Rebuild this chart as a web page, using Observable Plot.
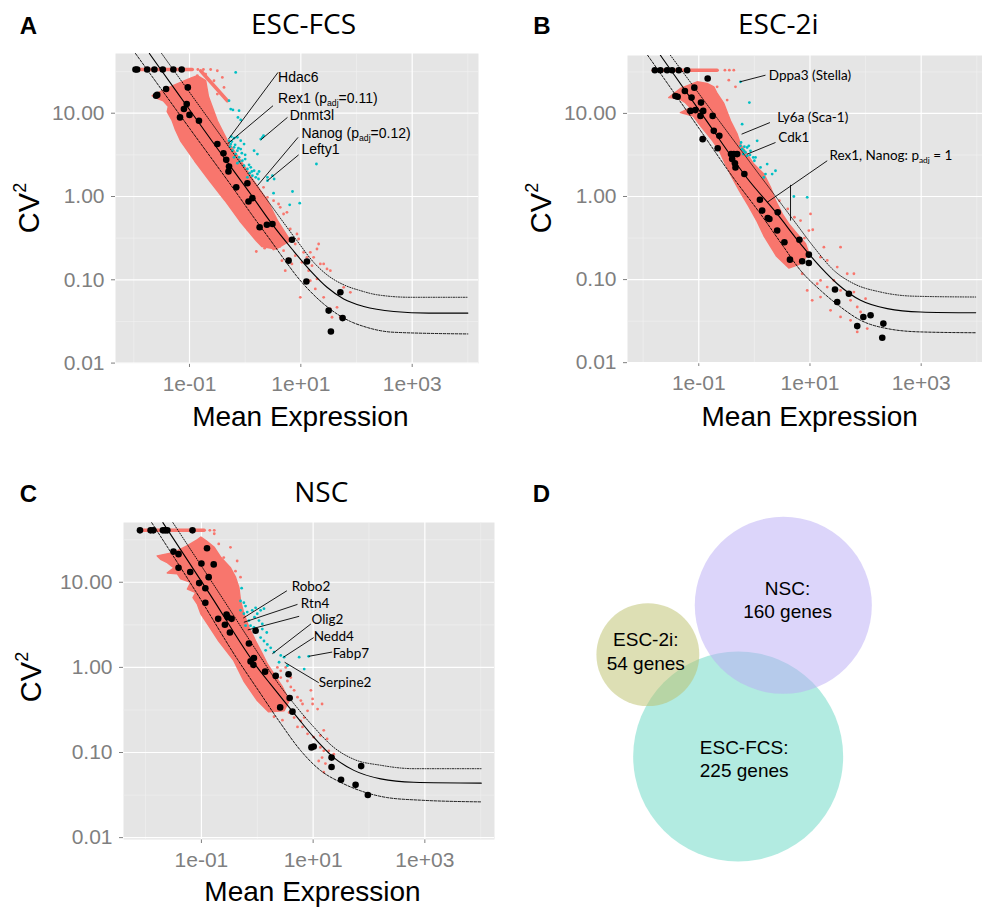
<!DOCTYPE html>
<html><head><meta charset="utf-8">
<script src="https://cdn.jsdelivr.net/npm/d3@7"></script>
<script src="https://cdn.jsdelivr.net/npm/@observablehq/plot@0.6"></script>
<style>
body{margin:0;background:#fff;}
#fig{position:relative;width:982px;height:910px;overflow:hidden;font-family:"Liberation Sans",Arial,sans-serif;color:#000;}
.abs{position:absolute;line-height:1;white-space:nowrap;transform:translate(-50%,-50%);}
.letter{font-weight:bold;font-size:24px;}
.title{font-family:"Open Sans",sans-serif;font-size:28px;}
.xlab{font-size:28px;}
.ylab{font-size:29px;transform:translate(-50%,-50%) rotate(-90deg);}
.ylab sup{font-size:0.62em;vertical-align:0.7em;line-height:0;}
.plotbox{position:absolute;}
</style></head>
<body><div id="fig"></div>
<script>
// ---------- shared axis breaks ----------
const xBreaks = [0.1, 10, 1000];
const xBreakLabels = ["1e-01", "1e+01", "1e+03"];
const xMinor = [0.01, 1, 100, 10000];
const yBreaks = [0.01, 0.1, 1, 10];
const yBreakLabels = ["0.01", "0.10", "1.00", "10.00"];
const yMinor = [0.0316, 0.316, 3.16, 31.6];

// all point data below: [log10 mean expression, log10 CV²]
// ---------- ESC-FCS ----------
const fcsCloud = [[-1.67,1.21],[-1.40,1.30],[-1.16,1.37],[-0.98,1.42],[-0.86,1.45],[-0.71,1.39],[-0.66,1.20],[-0.50,0.91],[-0.32,0.67],[-0.08,0.43],[0.15,0.19],[0.40,-0.05],[0.58,-0.29],[0.81,-0.53],[0.55,-0.63],[0.30,-0.60],[0.20,-0.53],[-0.10,-0.29],[-0.36,-0.05],[-0.64,0.19],[-0.91,0.43],[-1.16,0.67],[-1.25,0.80],[-1.31,0.91],[-1.40,1.02],[-1.38,1.08],[-1.47,1.15],[-1.55,1.17]];
const fcsStreaks = [[[-1.97,1.525],[-0.95,1.525]], [[-0.80,1.51],[-0.32,1.15]]];
const fcsRed = [[0.69,-0.21],[0.75,-0.19],[0.60,-0.09],[0.81,-0.39],[0.93,-0.45],[0.96,-0.51],[0.90,-0.57],[1.05,-0.67],[1.17,-0.67],[1.32,-0.57],[1.29,-0.63],[1.11,-0.73],[1.35,-0.81],[1.47,-0.87],[1.53,-0.89],[1.14,-0.89],[1.29,-0.99],[1.17,-1.01],[1.26,-1.11],[1.41,-1.21],[0.99,-1.21],[1.65,-1.33],[1.71,-1.45],[1.77,-1.09],[1.89,-1.15],[1.56,-1.45],[1.53,-1.35],[0.78,-0.75],[0.84,-0.81],[0.72,-0.89],[0.66,-0.77],[0.90,-0.71],[1.02,-0.79],[1.20,-0.83],[1.23,-0.73],[1.41,-0.81],[0.45,-0.41],[0.57,-0.53],[0.51,-0.63],[0.69,-0.65],[0.63,-0.45],[-0.86,1.45],[-0.71,1.47],[-0.41,1.43],[-0.38,1.31],[-0.56,1.39],[-0.50,1.23],[0.33,0.11],[0.51,-0.05],[0.63,-0.13],[0.40,-0.01],[-0.85,1.525],[-0.75,1.525],[-0.62,1.525],[-0.50,1.51],[0.35,-0.62],[0.20,-0.66],[0.62,-0.60],[0.05,-0.40],[-0.25,-0.12]];
const fcsCyan = [[-0.17,1.49],[-0.26,1.05],[-0.22,1.04],[-0.11,1.03],[-0.29,0.67],[-0.26,0.63],[-0.20,0.59],[-0.14,0.55],[-0.08,0.57],[-0.23,0.55],[-0.17,0.51],[-0.11,0.47],[-0.05,0.43],[-0.02,0.37],[0.04,0.33],[0.10,0.35],[0.16,0.31],[0.13,0.25],[0.19,0.23],[0.22,0.27],[0.24,0.21],[0.04,0.23],[0.28,0.69],[0.33,0.73],[0.16,0.55],[0.22,0.51],[0.40,0.23],[0.49,0.25],[0.52,0.21],[-0.14,0.71],[-0.08,0.67],[-0.02,0.63],[-0.20,0.47],[-0.14,0.40],[1.28,0.39],[0.85,0.06],[0.98,-0.08],[0.80,-0.10],[0.51,0.04],[0.40,0.19],[-0.29,1.15],[-0.13,0.95],[-0.08,0.92],[0.31,0.71],[-0.27,0.60],[-0.24,0.66],[-0.18,0.62],[-0.12,0.58],[-0.06,0.52],[0.00,0.45],[-0.10,0.42],[0.07,0.38],[0.12,0.30],[-0.25,0.72],[-0.20,0.70],[0.00,0.50],[0.08,0.28],[0.25,0.30]];
const fcsBlack = [[-1.97,1.525],[-1.94,1.525],[-1.76,1.525],[-1.63,1.525],[-1.48,1.525],[-1.29,1.525],[-1.14,1.525],[-1.42,1.29],[-1.58,1.22],[-1.60,1.21],[-1.03,1.31],[-1.05,1.11],[-1.10,1.05],[-1.00,0.98],[-1.17,0.95],[-0.83,0.91],[-0.50,0.63],[-0.39,0.52],[-0.34,0.44],[-0.29,0.36],[-0.30,0.30],[0.04,0.16],[-0.16,0.11],[0.13,-0.02],[0.06,-0.06],[0.39,-0.34],[0.26,-0.37],[0.49,-0.33],[0.84,-0.52],[0.78,-0.77],[1.11,-0.78],[1.10,-1.02],[1.71,-1.15],[1.50,-1.37],[1.75,-1.46],[1.54,-1.62]];
const fcsFit = [[-1.72,1.717],[-1.2,1.23],[-0.6,0.67],[0.13,0.0],[0.46,-0.31],[0.84,-0.63],[1.17,-0.89],[1.47,-1.09],[1.77,-1.23],[2.13,-1.32],[2.67,-1.38],[3.3,-1.40],[4.0,-1.40]];
const fcsUpper = [[-1.50,1.717],[-0.6,0.88],[0.35,0.0],[0.93,-0.53],[1.23,-0.79],[1.47,-0.94],[1.77,-1.06],[2.07,-1.13],[2.37,-1.18],[2.97,-1.21],[4.0,-1.21]];
const fcsLower = [[-1.97,1.717],[-1.0,0.82],[-0.11,0.0],[0.10,-0.20],[0.46,-0.53],[0.76,-0.81],[0.93,-0.96],[1.17,-1.14],[1.41,-1.29],[1.65,-1.41],[1.89,-1.50],[2.13,-1.56],[2.67,-1.63],[4.0,-1.65]];
const fcsLabels = ["Hdac6", "Rex1 (p_adj=0.11)", "Dnmt3l", "Nanog (p_adj=0.12)", "Lefty1"];
const fcsLabelPos = [[0.59,1.43],[0.59,1.18],[0.80,0.97],[1.01,0.76],[1.01,0.56]];
const fcsLinks = [[0.59,1.49,-0.30,0.69],[0.50,1.09,-0.32,0.63],[0.76,0.95,0.28,0.68],[0.95,0.71,0.22,0.13],[0.96,0.50,0.40,0.19]];

// ---------- ESC-2i ----------
const twoiCloud = [[-1.54,1.19],[-1.33,1.30],[-1.18,1.34],[-1.03,1.38],[-0.85,1.36],[-0.73,1.32],[-0.67,1.24],[-0.55,1.12],[-0.43,0.91],[-0.31,0.75],[-0.25,0.63],[-0.13,0.51],[-0.01,0.39],[0.17,0.27],[0.29,0.11],[0.38,-0.05],[0.50,-0.21],[0.62,-0.33],[0.77,-0.45],[0.92,-0.57],[0.98,-0.69],[0.83,-0.81],[0.62,-0.86],[0.40,-0.72],[0.17,-0.47],[0.05,-0.30],[-0.10,-0.12],[-0.27,0.07],[-0.40,0.23],[-0.52,0.39],[-0.63,0.55],[-0.75,0.67],[-0.87,0.77],[-0.99,0.87],[-1.10,0.97],[-1.33,1.01],[-1.15,1.07],[-1.24,1.13],[-1.36,1.18]];
const twoiStreaks = [[[-1.82,1.52],[-0.67,1.52]]];
const twoiRed = [[1.01,-0.21],[0.98,-0.41],[0.83,-0.29],[0.71,-0.45],[1.25,-0.61],[1.55,-0.61],[1.19,-0.73],[1.31,-0.77],[1.49,-0.85],[1.67,-0.93],[1.79,-0.93],[1.43,-1.01],[1.19,-1.01],[1.13,-1.05],[1.04,-1.25],[1.31,-1.09],[1.55,-1.13],[1.79,-1.15],[2.00,-1.23],[1.73,-1.25],[1.85,-1.33],[1.91,-1.39],[1.73,-1.49],[2.03,-1.59],[1.85,-1.63],[1.55,-1.45],[1.37,-1.37],[1.19,-1.21],[0.95,-1.13],[0.86,-0.93],[-0.37,1.52],[-0.34,1.32],[-0.49,1.16],[-0.55,1.06],[-0.40,0.83],[-0.46,1.40],[-0.67,1.32],[-0.53,1.52],[-0.45,1.52],[0.45,-0.05],[0.60,-0.15],[0.72,-0.25],[0.55,-0.38],[0.90,-0.50],[1.05,-0.40]];
const twoiCyan = [[-0.25,1.38],[-0.09,1.13],[-0.22,0.87],[-0.25,0.61],[-0.22,0.57],[-0.19,0.55],[-0.16,0.53],[-0.13,0.59],[-0.07,0.55],[-0.02,0.47],[0.02,0.47],[0.05,0.67],[0.11,0.35],[0.20,0.27],[0.23,0.39],[0.32,0.27],[0.38,0.31],[0.17,0.23],[0.00,0.43],[0.71,0.00],[0.95,-0.01],[-0.20,0.51],[-0.13,0.49],[-0.10,0.61],[-0.24,0.65],[-0.18,0.60],[-0.08,0.50]];
const twoiBlack = [[-1.79,1.52],[-1.69,1.52],[-1.57,1.52],[-1.48,1.52],[-1.36,1.52],[-1.21,1.52],[-0.84,1.42],[-1.42,1.21],[-1.38,1.20],[-1.25,1.27],[-1.08,1.31],[-1.13,1.19],[-0.96,1.13],[-1.15,1.03],[-1.06,1.04],[-0.97,0.97],[-0.92,1.03],[-0.75,0.97],[-0.93,0.69],[-0.73,0.79],[-0.63,0.73],[-0.66,0.58],[-0.42,0.51],[-0.37,0.51],[-0.31,0.51],[-0.40,0.45],[-0.35,0.40],[-0.34,0.35],[-0.18,0.27],[0.10,-0.04],[0.14,-0.17],[0.27,-0.27],[0.24,-0.26],[0.42,-0.19],[0.41,-0.41],[0.54,-0.55],[0.64,-0.76],[0.81,-0.52],[0.86,-0.78],[0.98,-0.70],[0.98,-0.80],[1.45,-1.12],[1.70,-1.17],[1.49,-1.27],[1.85,-1.56],[1.96,-1.45],[2.09,-1.43],[2.32,-1.53],[2.30,-1.70]];
const twoiFit = [[-1.69,1.70],[-0.9,0.95],[-0.13,0.22],[0.41,-0.21],[0.83,-0.57],[1.19,-0.85],[1.49,-1.05],[1.91,-1.25],[2.39,-1.35],[2.99,-1.39],[3.98,-1.40]];
const twoiUpper = [[-1.51,1.70],[-0.6,0.88],[0.17,0.19],[0.71,-0.29],[1.07,-0.61],[1.43,-0.89],[1.79,-1.05],[2.27,-1.15],[2.87,-1.20],[3.98,-1.21]];
const twoiLower = [[-1.92,1.70],[-1.1,0.92],[-0.34,0.19],[0.11,-0.21],[0.53,-0.61],[0.83,-0.89],[1.19,-1.13],[1.55,-1.33],[1.91,-1.49],[2.39,-1.59],[2.99,-1.63],[3.98,-1.64]];
const twoiLabels = ["Dppa3 (Stella)", "Ly6a (Sca-1)", "Cdk1", "Rex1, Nanog: p_adj = 1"];
const twoiLabelPos = [[0.26,1.46],[0.41,0.95],[0.43,0.71],[1.35,0.49]];
const twoiLinks = [[0.20,1.46,-0.26,1.38],[0.28,0.89,-0.23,0.75],[0.38,0.65,-0.13,0.51],[1.31,0.43,0.23,-0.07],[0.65,0.14,0.65,-0.29]];

// ---------- NSC ----------
const nscCloud = [[-1.79,1.31],[-1.49,1.35],[-1.25,1.43],[-1.07,1.50],[-1.01,1.53],[-0.92,1.49],[-0.77,1.41],[-0.65,1.29],[-0.48,1.17],[-0.39,1.06],[-0.33,0.94],[-0.30,0.78],[-0.24,0.63],[-0.15,0.47],[-0.03,0.31],[0.09,0.16],[0.18,0.04],[0.30,-0.08],[0.45,-0.23],[0.57,-0.39],[0.48,-0.51],[0.20,-0.52],[0.0,-0.39],[-0.24,-0.16],[-0.42,0.08],[-0.69,0.31],[-0.85,0.47],[-1.01,0.63],[-1.07,0.74],[-1.15,0.82],[-1.10,0.88],[-1.25,0.92],[-1.19,1.00],[-1.37,1.04],[-1.43,1.10],[-1.61,1.11],[-1.49,1.17],[-1.61,1.23],[-1.73,1.27]];
const nscStreaks = [[[-2.10,1.61],[-0.95,1.61]]];
const nscRed = [[0.36,0.0],[0.42,-0.12],[0.54,-0.16],[0.60,-0.23],[0.66,-0.27],[0.72,-0.35],[0.78,-0.39],[0.81,-0.43],[0.96,-0.27],[0.99,-0.37],[0.99,-0.43],[1.16,-0.43],[1.08,-0.49],[0.90,-0.51],[0.84,-0.59],[0.66,-0.59],[0.72,-0.70],[0.81,-0.70],[0.90,-0.78],[1.01,-0.82],[1.13,-0.80],[1.19,-0.74],[1.25,-0.84],[1.13,-0.94],[1.19,-0.98],[1.28,-0.98],[1.01,-0.92],[1.16,-1.06],[1.22,-1.13],[1.19,-1.23],[1.10,-1.10],[1.37,-1.02],[0.57,-0.53],[0.78,-0.63],[-0.77,1.57],[-0.69,1.45],[-0.48,1.41],[-0.60,1.29],[-0.39,1.13],[-0.36,1.25],[-0.30,1.06],[0.42,-0.04],[0.60,-0.12],[0.51,0.0],[-0.85,1.61],[-0.77,1.61],[0.30,-0.58],[0.45,-0.62]];
const nscCyan = [[-0.28,0.93],[-0.30,0.78],[-0.24,0.76],[-0.21,0.72],[-0.30,0.67],[-0.24,0.63],[-0.18,0.65],[-0.15,0.55],[-0.09,0.67],[-0.03,0.70],[-0.05,0.59],[0.03,0.55],[0.09,0.51],[0.12,0.69],[0.00,0.43],[0.06,0.35],[0.12,0.31],[0.18,0.27],[0.24,0.23],[0.15,0.20],[0.30,0.18],[0.42,0.14],[0.48,0.12],[0.39,0.06],[0.54,0.02],[0.75,0.12],[0.92,0.13],[0.84,-0.02],[-0.21,0.49],[-0.12,0.49],[-0.06,0.47],[0.09,0.45],[0.17,0.41],[0.00,0.63],[0.06,0.67]];
const nscBlack = [[-2.10,1.61],[-1.91,1.61],[-1.86,1.61],[-1.69,1.61],[-1.65,1.61],[-1.61,1.61],[-1.16,1.61],[-0.90,1.40],[-1.50,1.36],[-1.41,1.33],[-1.41,1.17],[-0.78,1.21],[-1.00,1.22],[-0.87,1.06],[-1.20,1.12],[-1.04,0.99],[-0.93,0.93],[-0.93,0.76],[-0.70,0.57],[-0.55,0.62],[-0.53,0.59],[-0.46,0.57],[-0.58,0.50],[-0.49,0.41],[-0.03,0.43],[-0.15,0.28],[-0.12,0.07],[-0.06,0.11],[-0.07,0.03],[0.14,-0.05],[0.33,-0.10],[0.56,-0.08],[0.41,-0.47],[0.58,-0.36],[0.63,-0.52],[0.97,-0.94],[1.01,-0.93],[1.33,-1.06],[1.33,-1.17],[1.86,-1.16],[1.50,-1.32],[1.76,-1.38],[1.98,-1.50]];
const nscFit = [[-1.69,1.70],[-0.85,0.86],[0.0,0.0],[0.24,-0.20],[0.72,-0.59],[1.01,-0.82],[1.37,-1.06],[1.73,-1.21],[2.21,-1.31],[2.80,-1.35],[4.01,-1.36]];
const nscUpper = [[-1.51,1.70],[-0.7,0.89],[0.06,0.12],[0.30,-0.12],[0.66,-0.43],[1.01,-0.70],[1.37,-0.94],[1.73,-1.08],[2.21,-1.15],[2.80,-1.19],[4.01,-1.19]];
const nscLower = [[-1.89,1.70],[-1.1,0.89],[-0.36,0.10],[0.06,-0.31],[0.42,-0.66],[0.78,-0.98],[1.13,-1.21],[1.49,-1.35],[1.85,-1.45],[2.33,-1.53],[2.92,-1.56],[4.01,-1.58]];
const nscLabels = ["Robo2", "Rtn4", "Olig2", "Nedd4", "Fabp7", "Serpine2"];
const nscLabelPos = [[0.615,0.945],[0.78,0.75],[0.97,0.56],[1.01,0.36],[1.35,0.16],[1.10,-0.18]];
const nscLinks = [[0.53,0.90,-0.25,0.58],[0.72,0.74,-0.24,0.53],[0.75,0.60,-0.17,0.44],[0.96,0.51,0.27,0.16],[1.01,0.35,0.47,0.12],[1.34,0.18,0.92,0.13],[1.10,-0.18,0.49,0.06]];

// ---------- Venn ----------
const vennSets = ["ESC-2i", "ESC-FCS", "NSC"];
const vennCounts = [54, 225, 160];
const vennX = [-0.86, 0, 0.43];      // circle centres, in units of the ESC-FCS radius
const vennY = [0.97, 0, 1.44];
const vennLabelX = [-0.88, 0.057, 0.47];
const vennLabelY = [1.01, -0.012, 1.50];

// ---------- styles ----------
const RED = "#F8766D", CYAN = "#00BFC4";
const vennFill = {"NSC": "#B9ABF5", "ESC-2i": "#BBBF69", "ESC-FCS": "#65D7C3"};

const P = a => a.map(([lx, ly]) => ({x: 10 ** lx, y: 10 ** ly}));

function scatter(o) {
  const lab = o.labels.map((t, i) => ({text: t, x: 10 ** o.labelPos[i][0], y: 10 ** o.labelPos[i][1]}));
  const links = o.links.map(([a, b, c, d]) => ({x1: 10 ** a, y1: 10 ** b, x2: 10 ** c, y2: 10 ** d}));
  const marks = [
    Plot.frame({fill: "#E5E5E5", stroke: "none"}),
    Plot.ruleX(xMinor, {stroke: "#F2F2F2", strokeWidth: 0.6}),
    Plot.ruleY(yMinor, {stroke: "#F2F2F2", strokeWidth: 0.6}),
    Plot.ruleX(xBreaks, {stroke: "#FFFFFF", strokeWidth: 1.2}),
    Plot.ruleY(yBreaks, {stroke: "#FFFFFF", strokeWidth: 1.2}),
    Plot.line(P(o.cloud), {x: "x", y: "y", fill: RED, stroke: RED, strokeWidth: 1.5, curve: "linear-closed"}),
    ...o.streaks.map(s => Plot.line(P(s), {x: "x", y: "y", stroke: RED, strokeWidth: 3.5})),
    Plot.dot(P(o.red), {x: "x", y: "y", r: 1.4, fill: RED}),
    Plot.dot(P(o.cyan), {x: "x", y: "y", r: 1.4, fill: CYAN}),
    Plot.line(P(o.upper), {x: "x", y: "y", stroke: "black", strokeWidth: 0.9, strokeDasharray: "1,1.5", curve: "monotone-x", clip: true}),
    Plot.line(P(o.lower), {x: "x", y: "y", stroke: "black", strokeWidth: 0.9, strokeDasharray: "2.5,1.5", curve: "monotone-x", clip: true}),
    Plot.line(P(o.fit), {x: "x", y: "y", stroke: "black", strokeWidth: 1.1, curve: "monotone-x", clip: true}),
    Plot.dot(P(o.black), {x: "x", y: "y", r: 3.3, fill: "black"}),
    Plot.link(links, {x1: "x1", y1: "y1", x2: "x2", y2: "y2", stroke: "black", strokeWidth: 0.9}),
    Plot.text(lab, {x: "x", y: "y", text: "text", textAnchor: "start", fill: "black", fontSize: o.labelSize, fontFamily: o.labelFont})
  ];
  const svg = Plot.plot({
    width: o.width, height: o.height,
    marginLeft: o.m[0], marginRight: o.m[1], marginTop: o.m[2], marginBottom: o.m[3],
    style: {fontFamily: "'Liberation Sans', Arial, sans-serif", fontSize: "21px", color: "#7F7F7F", background: "transparent", overflow: "visible"},
    x: {type: "log", domain: o.xDom, ticks: xBreaks, tickFormat: d => xBreakLabels[xBreaks.indexOf(d)], tickSize: 4, tickPadding: 9, label: null},
    y: {type: "log", domain: o.yDom, ticks: yBreaks, tickFormat: d => yBreakLabels[yBreaks.indexOf(d)], tickSize: 4, tickPadding: 7, label: null},
    marks
  });
  // subscripts "adj"
  svg.querySelectorAll("text").forEach(t => {
    if (t.children.length === 0 && t.textContent.includes("_adj")) {
      const [pre, post] = t.textContent.split("_adj");
      t.textContent = "";
      const ns = "http://www.w3.org/2000/svg";
      const a = document.createElementNS(ns, "tspan"); a.textContent = pre;
      const b = document.createElementNS(ns, "tspan"); b.textContent = "adj"; b.setAttribute("dy", "0.35em"); b.setAttribute("font-size", "0.62em");
      const c = document.createElementNS(ns, "tspan"); c.textContent = post; c.setAttribute("dy", "-0.22em");
      t.append(a, b, c);
    }
  });
  return svg;
}

const fig = document.getElementById("fig");
function place(el, left, top) {
  const d = document.createElement("div");
  d.className = "plotbox"; d.style.left = left + "px"; d.style.top = top + "px";
  d.appendChild(el); fig.appendChild(d);
}
function label(html, cls, x, y) {
  const d = document.createElement("div");
  d.className = "abs " + cls; d.style.left = x + "px"; d.style.top = y + "px";
  d.innerHTML = html; fig.appendChild(d);
}

const humanist = "Lato, 'Open Sans', sans-serif";
place(scatter({cloud: fcsCloud, streaks: fcsStreaks, red: fcsRed, cyan: fcsCyan, black: fcsBlack, fit: fcsFit, upper: fcsUpper, lower: fcsLower,
  labels: fcsLabels, labelPos: fcsLabelPos, links: fcsLinks, labelFont: "'Liberation Sans', Arial, sans-serif", labelSize: 14,
  width: 490, height: 400, m: [115, 12, 53, 37], xDom: [10 ** -2.329, 10 ** 4.191], yDom: [10 ** -2.005, 10 ** 1.717]}), 0, 0);

place(scatter({cloud: twoiCloud, streaks: twoiStreaks, red: twoiRed, cyan: twoiCyan, black: twoiBlack, fit: twoiFit, upper: twoiUpper, lower: twoiLower,
  labels: twoiLabels, labelPos: twoiLabelPos, links: twoiLinks, labelFont: humanist, labelSize: 13.5,
  width: 470, height: 400, m: [115, 0, 55, 38], xDom: [10 ** -2.282, 10 ** 4.103], yDom: [10 ** -1.998, 10 ** 1.697]}), 512, 0);

place(scatter({cloud: nscCloud, streaks: nscStreaks, red: nscRed, cyan: nscCyan, black: nscBlack, fit: nscFit, upper: nscUpper, lower: nscLower,
  labels: nscLabels, labelPos: nscLabelPos, links: nscLinks, labelFont: humanist, labelSize: 13.5,
  width: 500, height: 420, m: [123, 6, 62, 41], xDom: [10 ** -2.395, 10 ** 4.247], yDom: [10 ** -2.022, 10 ** 1.702]}), 0, 460);

// Venn diagram
const venn = vennSets.map((s, i) => ({set: s, count: vennCounts[i], x: vennX[i], y: vennY[i], lx: vennLabelX[i], ly: vennLabelY[i]}));
place(Plot.plot({
  width: 462, height: 440, margin: 0,
  style: {background: "transparent", overflow: "visible"},
  x: {domain: [-2.073, 2.327], range: [0, 462], axis: null},
  y: {domain: [-1.467, 2.724], range: [440, 0], axis: null},
  r: {type: "sqrt", domain: [0, 225], range: [0, 105]},
  color: {type: "identity"},
  marks: [
    Plot.dot(venn, {x: "x", y: "y", r: "count", fill: d => vennFill[d.set], fillOpacity: 0.5, stroke: "none"}),
    Plot.text(venn, {x: "lx", y: "ly", text: d => `${d.set}:\n${d.count} genes`, fontSize: 19, lineHeight: 1.23, fill: "black", fontFamily: "'Liberation Sans', Arial, sans-serif"})
  ]
}), 520, 470);

// titles, letters, axis titles
label("A", "letter", 28.5, 25.5);
label("B", "letter", 542, 25.5);
label("C", "letter", 28.5, 493.5);
label("D", "letter", 541.5, 493.5);
label("ESC-FCS", "title", 303.5, 23);
label("ESC-2i", "title", 778.3, 23);
label("NSC", "title", 321.3, 491);
label("Mean Expression", "xlab", 300.3, 417);
label("Mean Expression", "xlab", 809.7, 417);
label("Mean Expression", "xlab", 312.5, 892);
label("CV<sup>2</sup>", "ylab", 29, 208);
label("CV<sup>2</sup>", "ylab", 541, 208);
label("CV<sup>2</sup>", "ylab", 31, 677);
</script>
</body></html>
